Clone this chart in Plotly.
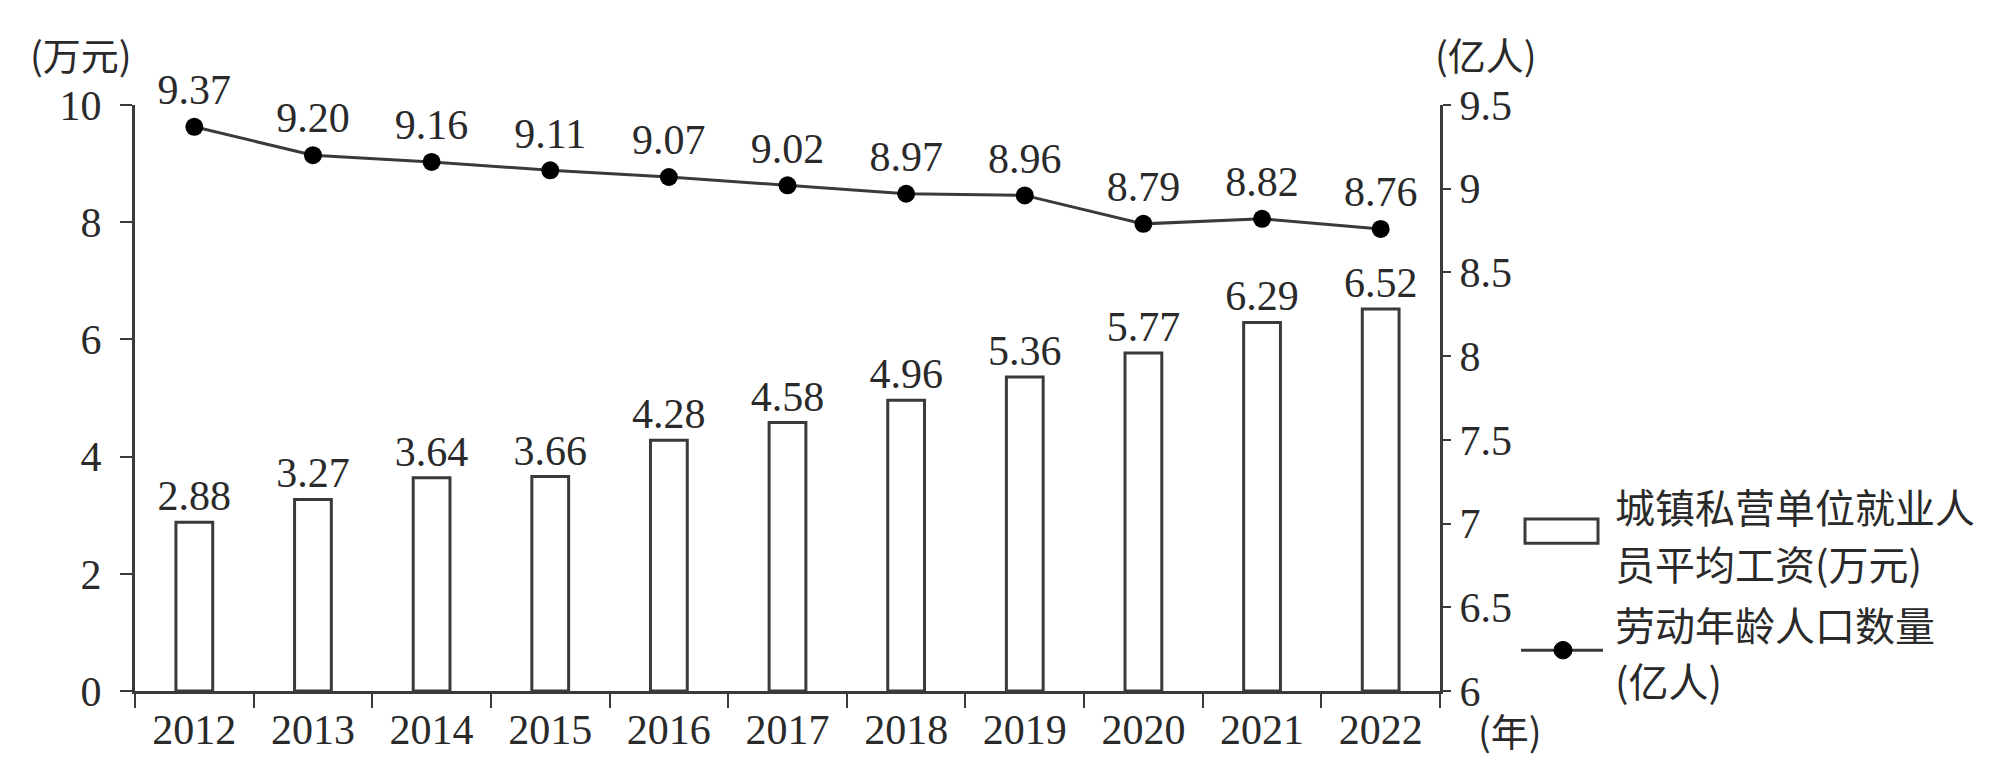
import plotly.graph_objects as go

years = ["2012", "2013", "2014", "2015", "2016", "2017", "2018", "2019", "2020", "2021", "2022"]
wages = [2.88, 3.27, 3.64, 3.66, 4.28, 4.58, 4.96, 5.36, 5.77, 6.29, 6.52]
workers = [9.37, 9.20, 9.16, 9.11, 9.07, 9.02, 8.97, 8.96, 8.79, 8.82, 8.76]
wage_labels = [f"{v:.2f}" for v in wages]
worker_labels = [f"{v:.2f}" for v in workers]
left_ticks = [0, 2, 4, 6, 8, 10]
right_ticks = [6, 6.5, 7, 7.5, 8, 8.5, 9, 9.5]
right_tick_text = ["6", "6.5", "7", "7.5", "8", "8.5", "9", "9.5"]
legend_wage_lines = ["城镇私营单位就业人", "员平均工资(万元)"]
legend_worker_lines = ["劳动年龄人口数量", "(亿人)"]
left_unit = "(万元)"
right_unit = "(亿人)"
x_unit = "(年)"

SERIF = "Liberation Serif, Noto Sans CJK SC"
CJK = "Noto Sans CJK SC"
INK = "#2a2a2a"
LINE = "#3a3a3a"

W, H = 2014, 757
L, R, T, B = 127, 582, 97, 57
PW, PH = W - L - R, H - T - B


def px(x):
    return (x - L) / PW


def py(y):
    return (H - B - y) / PH


fig = go.Figure()
fig.add_trace(go.Bar(
    x=years, y=wages, width=0.31,
    marker=dict(color="white", line=dict(color=LINE, width=3)),
    text=wage_labels, textposition="outside", constraintext="none",
    textfont=dict(family=SERIF, size=42, color=INK),
    cliponaxis=False, showlegend=False,
))
fig.add_trace(go.Scatter(
    x=years, y=workers, yaxis="y2", mode="lines+markers+text",
    line=dict(color=LINE, width=3),
    marker=dict(size=18, color="black"),
    text=worker_labels, textposition="top center",
    textfont=dict(family=SERIF, size=42, color=INK),
    cliponaxis=False, showlegend=False,
))

shapes = [
    dict(type="rect", xref="paper", yref="paper",
         x0=px(1517), x1=px(1590), y0=py(548), y1=py(523),
         line=dict(color=LINE, width=3), fillcolor="white"),
    dict(type="line", xref="paper", yref="paper",
         x0=px(1513), x1=px(1595), y0=py(658), y1=py(658),
         line=dict(color=LINE, width=3)),
    dict(type="circle", xref="paper", yref="paper",
         x0=px(1555 - 9), x1=px(1555 + 9), y0=py(658 + 9), y1=py(658 - 9),
         line=dict(color="black", width=1), fillcolor="black"),
]

annotations = [
    dict(text=left_unit, xref="paper", yref="paper", x=px(73), y=py(44),
         xanchor="center", yanchor="middle", showarrow=False,
         font=dict(family=CJK, size=38, color=INK)),
    dict(text=right_unit, xref="paper", yref="paper", x=px(1478), y=py(44),
         xanchor="center", yanchor="middle", showarrow=False,
         font=dict(family=CJK, size=38, color=INK)),
    dict(text=x_unit, xref="paper", yref="paper", x=px(1468), y=py(740),
         xanchor="left", yanchor="middle", showarrow=False,
         font=dict(family=CJK, size=38, color=INK)),
]
legend_rows = list(zip(legend_wage_lines + legend_worker_lines, [510, 568, 631, 689]))
for txt, yc in legend_rows:
    annotations.append(dict(
        text=txt, xref="paper", yref="paper", x=px(1605), y=py(yc),
        xanchor="left", yanchor="middle", align="left", showarrow=False,
        font=dict(family=CJK, size=40, color=INK)))

fig.update_layout(
    width=W, height=H,
    margin=dict(l=L, r=R, t=T, b=B),
    paper_bgcolor="white", plot_bgcolor="white",
    showlegend=False,
    shapes=shapes, annotations=annotations,
    xaxis=dict(type="category", range=[-0.5, 10.5], tickson="boundaries",
               ticks="outside", ticklen=14, tickwidth=2, tickcolor=LINE,
               showline=True, linecolor=LINE, linewidth=3, showgrid=False,
               tickfont=dict(family=SERIF, size=42, color=INK)),
    yaxis=dict(range=[0, 10], tickvals=left_ticks, ticks="outside", ticklen=12,
               tickwidth=2, tickcolor=LINE, showline=True, linecolor=LINE,
               linewidth=3, showgrid=False, zeroline=False, ticklabelstandoff=10,
               tickfont=dict(family=SERIF, size=42, color=INK)),
    yaxis2=dict(range=[6, 9.5], overlaying="y", side="right",
                tickvals=right_ticks, ticktext=right_tick_text,
                ticks="outside", ticklen=8, tickwidth=2, tickcolor=LINE,
                showline=True, linecolor=LINE, linewidth=3, showgrid=False,
                zeroline=False,
                tickfont=dict(family=SERIF, size=42, color=INK)),
)

fig.write_html("out.html")
